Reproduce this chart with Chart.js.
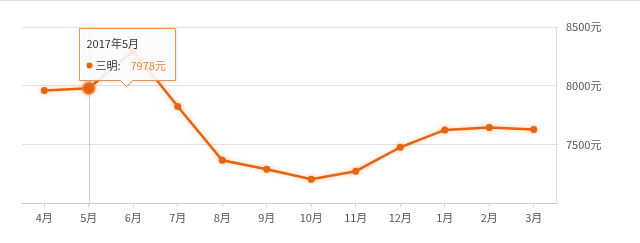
<!DOCTYPE html>
<html>
<head>
<meta charset="utf-8">
<script src="https://cdn.jsdelivr.net/npm/chart.js@4/dist/chart.umd.min.js"></script>
<style>
  html, body { margin: 0; padding: 0; background: #fff; }
  #wrap { width: 640px; height: 243px; position: relative; }
</style>
</head>
<body>
<div id="wrap"><canvas id="priceChart"></canvas></div>
<script>
// 三明 monthly average price (元/㎡)
const months = ["4月", "5月", "6月", "7月", "8月", "9月", "10月", "11月", "12月", "1月", "2月", "3月"];
const prices = [7958, 7978, 8297, 7822, 7364, 7288, 7203, 7271, 7475, 7623, 7644, 7627];
const yTicks = [7000, 7500, 8000, 8500];
const cityName = "三明";
const activeIndex = 1;
const activeTitle = "2017年5月";

const lineColor = "#e4640f";
const font = "'Noto Sans CJK SC', 'Noto Sans', sans-serif";

Chart.defaults.font.family = font;
Chart.defaults.color = "#555";

// top border, crosshair under the line, glow on the line
const decor = {
  id: "decor",
  beforeDraw(chart) {
    const ctx = chart.ctx;
    ctx.save();
    ctx.strokeStyle = "#dcdcdc";
    ctx.lineWidth = 1;
    ctx.beginPath();
    ctx.moveTo(0, 0.5); ctx.lineTo(chart.width, 0.5);
    ctx.stroke();
    ctx.restore();
  },
  beforeDatasetsDraw(chart) {
    const pt = chart.getDatasetMeta(0).data[activeIndex];
    const { top, bottom } = chart.chartArea;
    const ctx = chart.ctx;
    ctx.save();
    ctx.strokeStyle = "#cfcfcf";
    ctx.lineWidth = 1;
    ctx.beginPath();
    ctx.moveTo(Math.round(pt.x) + 0.5, top);
    ctx.lineTo(Math.round(pt.x) + 0.5, bottom + 2);
    ctx.stroke();
    ctx.restore();
  },
  beforeDatasetDraw(chart) {
    const ctx = chart.ctx;
    ctx.save();
    ctx.shadowColor = "rgba(232,101,15,0.35)";
    ctx.shadowBlur = 5;
  },
  afterDatasetDraw(chart) {
    chart.ctx.restore();
  },
  afterDraw(chart) {
    // fixed tooltip like the source page
    const pt = chart.getDatasetMeta(0).data[activeIndex];
    const ctx = chart.ctx;
    const x = Math.round(pt.x) - 10 + 0.5, y = 28.5, w = 96, h = 52;
    const cx = x + 47, tip = y + h + 6;
    ctx.save();
    ctx.fillStyle = "rgba(255,255,255,0.88)";
    ctx.strokeStyle = "#ea9258";
    ctx.lineWidth = 1;
    ctx.shadowColor = "rgba(0,0,0,0.15)";
    ctx.shadowBlur = 3;
    ctx.shadowOffsetX = 1; ctx.shadowOffsetY = 1;
    ctx.beginPath();
    ctx.moveTo(x, y);
    ctx.lineTo(x + w, y);
    ctx.lineTo(x + w, y + h);
    ctx.lineTo(cx + 6, y + h);
    ctx.lineTo(cx, tip);
    ctx.lineTo(cx - 6, y + h);
    ctx.lineTo(x, y + h);
    ctx.closePath();
    ctx.fill();
    ctx.shadowColor = "transparent";
    ctx.stroke();

    ctx.textBaseline = "middle";
    ctx.font = "11px " + font;
    ctx.fillStyle = "#333";
    ctx.fillText(activeTitle, x + 7, y + 15);

    ctx.fillStyle = lineColor;
    ctx.beginPath();
    ctx.arc(x + 10, y + 37, 3, 0, Math.PI * 2);
    ctx.fill();
    ctx.fillStyle = "#333";
    ctx.fillText(cityName + ":", x + 16, y + 37);
    ctx.fillStyle = "#e8843c";
    ctx.fillText(prices[activeIndex] + "元", x + 51, y + 37);
    ctx.restore();
  }
};

new Chart(document.getElementById("priceChart"), {
  type: "line",
  data: {
    labels: months,
    datasets: [{
      data: prices,
      borderColor: lineColor,
      borderWidth: 2.5,
      backgroundColor: lineColor,
      pointBackgroundColor: lineColor,
      pointRadius: (c) => c.dataIndex === activeIndex ? 6 : 3.5,
      pointBorderWidth: (c) => c.dataIndex === activeIndex ? 3 : 0,
      pointBorderColor: (c) => c.dataIndex === activeIndex ? "rgba(240,140,80,0.35)" : lineColor,
      tension: 0,
      fill: false,
    }],
  },
  options: {
    responsive: true,
    maintainAspectRatio: false,
    animation: false,
    events: [],
    layout: { padding: { left: 22, top: 27, right: 0, bottom: 0 } },
    plugins: { legend: { display: false }, tooltip: { enabled: false } },
    scales: {
      x: {
        offset: true,
        grid: { display: true, drawOnChartArea: false, drawTicks: true, tickLength: 4, color: "#d8d8d8", offset: false },
        border: { display: true, color: "#cfcfcf" },
        ticks: { font: { size: 11 }, color: "#555", padding: 4, maxRotation: 0, autoSkip: false },
        afterFit(scale) { scale.height = 40; },
      },
      y: {
        position: "right",
        min: yTicks[0],
        max: yTicks[yTicks.length - 1],
        afterBuildTicks(scale) { scale.ticks = yTicks.map((v) => ({ value: v })); },
        grid: { color: "#e2e2e2", drawTicks: true, tickLength: 2 },
        border: { display: true, color: "#dcdcdc" },
        ticks: {
          font: { size: 11 }, color: "#555", padding: 8,
          callback: (v) => v === yTicks[0] ? "" : v + "元",
        },
        afterFit(scale) { scale.width = 84; },
      },
    },
  },
  plugins: [decor],
});
</script>
</body>
</html>
